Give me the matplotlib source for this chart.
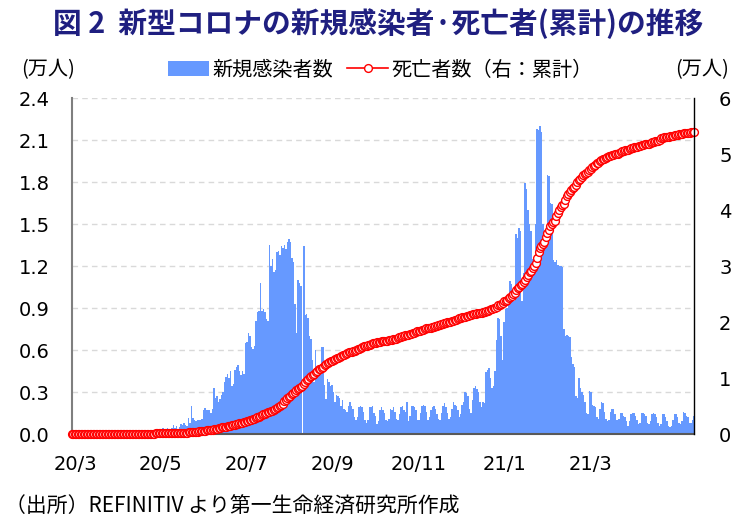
import numpy as np
import pandas as pd
import matplotlib
matplotlib.use('Agg')
import matplotlib.pyplot as plt
import matplotlib.dates as mdates

JP = ['Noto Sans CJK JP', 'DejaVu Sans']
plt.rcParams['font.family'] = ['DejaVu Sans', 'Noto Sans CJK JP']

# daily new cases (persons), one list per month, from 2020/3/1
cases_2020_03 = [0, 0, 0, 0, 1, 0, 1, 1, 4, 0, 6, 4, 7, 14, 13, 11, 23, 31, 34, 52,
                 38, 34, 128, 152, 155, 218, 243, 75, 17, 46, 27]
cases_2020_04 = [27, 82, 44, 43, 123, 63, 65, 48, 89, 51, 121, 66, 141, 144, 99, 97, 178, 87, 251, 143,
                 124, 165, 142, 318, 246, 104, 173, 183, 354, 297]
cases_2020_05 = [424, 385, 293, 437, 322, 374, 424, 663, 445, 595, 350, 511, 698, 663, 818, 665, 598, 1160, 767, 2000,
                 1130, 1000, 950, 1000, 1030, 1000, 1100, 1680, 1830, 1740, 1720]
cases_2020_06 = [1700, 1500, 1800, 3300, 2600, 2700, 2300, 2500, 2800, 3000, 3700, 4100, 4300, 4000, 4500, 3400, 3600, 4600, 4800, 4900,
                 4500, 4200, 4500, 4300, 6500, 6600, 7200, 7000, 6200, 6100]
cases_2020_07 = [6300, 8100, 8700, 8800, 10800, 8800, 8900, 8700, 8200, 8100, 13500, 12000, 12500, 11600, 11700, 13000, 13100, 12800, 13400, 13300,
                 13500, 13200, 13700, 13900, 13700, 12600, 12300, 9300, 7200, 11000, 10800]
cases_2020_08 = [10600, 0, 13400, 8500, 8600, 8300, 7000, 6800, 5300, 3700, 6000, 4500, 4600, 4400, 6200, 6200, 3500, 2500, 3900, 3700,
                 3400, 3500, 3000, 2300, 2800, 2700, 2600, 2000, 2400, 1800, 1700]
cases_2020_09 = [1600, 2000, 2300, 2000, 1800, 1200, 1000, 1200, 1900, 2000, 1900, 1600, 1000, 800, 1000, 1900, 1900, 2000, 1500, 1300,
                 700, 900, 1700, 1900, 1700, 1500, 1000, 900, 1100, 1800]
cases_2020_10 = [1700, 1900, 1600, 1100, 1000, 1400, 1900, 2000, 1700, 1600, 2300, 900, 1300, 2000, 2000, 1900, 1700, 1000, 1000, 1500,
                 2000, 2100, 2000, 1600, 1000, 1200, 1700, 1900, 2000, 1800, 1400]
cases_2020_11 = [1100, 1000, 1500, 2000, 2200, 1900, 1500, 1100, 1200, 1800, 2300, 2100, 2000, 1700, 1200, 1400, 2100, 2300, 3000, 2900,
                 2700, 1800, 1500, 2400, 3300, 3400, 3200, 3000, 2300, 1900]
cases_2020_12 = [2300, 2200, 4400, 4600, 4700, 4000, 3300, 3400, 4500, 6700, 8300, 8200, 7000, 5300, 8000, 8900, 9000, 9300, 10900, 10700,
                 10000, 9500, 14300, 14000, 14700, 14500, 9500, 11500, 17900, 17500, 16000]
cases_2021_01 = [15000, 14500, 12500, 12600, 15000, 21800, 21700, 22000, 21600, 15000, 13400, 13400, 18500, 18400, 16500, 16400, 12400, 12300, 12400, 12100,
                 12000, 12000, 11900, 7500, 7000, 7100, 7000, 6900, 5500, 5000, 4800]
cases_2021_02 = [2700, 2600, 4000, 3300, 3000, 2800, 2300, 1500, 1400, 3100, 3000, 2100, 2000, 1900, 1200, 1100, 1800, 2300, 2200, 1600,
                 1100, 900, 1000, 1600, 1800, 1800, 1400, 1000]
cases_2021_03 = [1000, 1100, 1500, 1500, 1300, 1200, 900, 600, 900, 1400, 1500, 1500, 1300, 1000, 700, 800, 1500, 1500, 1400, 1300,
                 800, 700, 900, 1400, 1500, 1400, 1200, 800, 600, 700, 1400]
cases_2021_04 = [1400, 1200, 900, 600, 500, 600, 1000, 1400, 1400, 1200, 800, 700, 900, 1600, 1500, 1300, 1200, 800, 800, 1000, 1300]

# cumulative deaths (persons)
deaths_2020_03 = [0, 0, 0, 0, 0, 0, 0, 0, 0, 0, 0, 0, 0, 0, 0, 0, 0, 0, 0, 0,
                  0, 0, 0, 0, 0, 0, 1, 2, 2, 3, 5]
deaths_2020_04 = [5, 9, 9, 11, 12, 13, 18, 18, 18, 24, 25, 25, 27, 34, 48, 50, 52, 54, 58, 58,
                  65, 75, 79, 86, 87, 90, 93, 93, 103, 103]
deaths_2020_05 = [103, 106, 116, 123, 131, 138, 148, 153, 161, 178, 186, 194, 206, 219, 247, 261, 264, 286, 312, 339,
                  369, 397, 407, 429, 481, 524, 552, 577, 611, 627, 643]
deaths_2020_06 = [705, 755, 792, 848, 908, 952, 998, 1080, 1162, 1210, 1284, 1339, 1354, 1423, 1480, 1568, 1625, 1674, 1737, 1831,
                  1877, 1930, 1991, 2102, 2205, 2292, 2340, 2413, 2529, 2657]
deaths_2020_07 = [2749, 2844, 2952, 3026, 3199, 3310, 3502, 3602, 3720, 3860, 3971, 4079, 4172, 4346, 4453, 4669, 4804, 5033, 5173, 5368,
                  5940, 6093, 6343, 6655, 6769, 7067, 7257, 7497, 7812, 8005, 8153]
deaths_2020_08 = [8366, 8539, 8884, 9298, 9604, 9909, 10210, 10408, 10621, 10751, 11010, 11270, 11556, 11677, 11839, 11982, 12264, 12423, 12618, 12843,
                  12987, 13059, 13159, 13308, 13502, 13628, 13743, 13981, 14028, 14149, 14263]
deaths_2020_09 = [14389, 14563, 14678, 14728, 14779, 14889, 15004, 15168, 15265, 15427, 15499, 15641, 15705, 15772, 15857, 15953, 16066, 16206, 16283, 16312,
                  16376, 16398, 16470, 16550, 16600, 16640, 16667, 16680, 16700, 16734]
deaths_2020_10 = [16866, 16938, 16976, 17016, 17103, 17248, 17408, 17451, 17547, 17609, 17625, 17673, 17780, 17863, 17976, 18028, 18151, 18309, 18408, 18471,
                  18492, 18656, 18741, 18843, 18891, 18944, 19003, 19053, 19111, 19230, 19276]
deaths_2020_11 = [19411, 19539, 19585, 19677, 19749, 19809, 19951, 20011, 20041, 20125, 20206, 20314, 20419, 20537, 20671, 20759, 20845, 20903, 20968, 21047,
                  21138, 21201, 21289, 21378, 21439, 21477, 21535, 21578, 21609, 21644]
deaths_2020_12 = [21709, 21803, 21903, 22042, 22206, 22249, 22332, 22432, 22574, 22747, 22952, 23123, 23276, 23451, 23661, 23827, 24011, 24283, 24539, 24691,
                  24941, 25246, 25657, 26000, 26276, 26521, 26735, 27071, 27568, 28033, 28469]
deaths_2021_01 = [28887, 29175, 29577, 30011, 30524, 31368, 32425, 33163, 33579, 33884, 34334, 35140, 35852, 36467, 37105, 37449, 37796, 38082, 38854, 39501,
                  40076, 40574, 40874, 41117, 41797, 42550, 42909, 43300, 43631, 43951, 44164]
deaths_2021_02 = [44399, 44946, 45344, 45605, 45902, 46290, 46440, 46605, 46869, 47145, 47382, 47622, 47868, 48094, 48313, 48478, 48708, 48940, 49053, 49150,
                  49300, 49413, 49558, 49667, 49784, 49890, 49941, 49993]
deaths_2021_03 = [50077, 50246, 50366, 50462, 50566, 50643, 50677, 50803, 50906, 51015, 51110, 51190, 51261, 51326, 51421, 51498, 51560, 51634, 51724, 51784,
                  51800, 51860, 52000, 52111, 52190, 52272, 52372, 52395, 52535, 52788, 52897]
deaths_2021_04 = [52987, 53032, 53081, 53110, 53173, 53226, 53256, 53322, 53356, 53423, 53497, 53500, 53600, 53663, 53723, 53779, 53795, 53811, 53841, 53887,
                  53940]

x_labels = ['20/3', '20/5', '20/7', '20/9', '20/11', '21/1', '21/3']

cases = np.array(cases_2020_03 + cases_2020_04 + cases_2020_05 + cases_2020_06 + cases_2020_07
                 + cases_2020_08 + cases_2020_09 + cases_2020_10 + cases_2020_11 + cases_2020_12
                 + cases_2021_01 + cases_2021_02 + cases_2021_03 + cases_2021_04) / 10000
deaths = np.array(deaths_2020_03 + deaths_2020_04 + deaths_2020_05 + deaths_2020_06 + deaths_2020_07
                  + deaths_2020_08 + deaths_2020_09 + deaths_2020_10 + deaths_2020_11 + deaths_2020_12
                  + deaths_2021_01 + deaths_2021_02 + deaths_2021_03 + deaths_2021_04) / 10000
dates = pd.date_range('2020-03-01', periods=len(cases), freq='D')

fig = plt.figure(figsize=(7.42, 5.24), dpi=100)
ax = fig.add_axes([72 / 742, 1 - 434 / 524, 622 / 742, 336 / 524])

bars = ax.bar(dates, cases, width=1.0, color='#6699FF', linewidth=0, zorder=2)
ax.set_ylim(0, 2.4)
ax.set_yticks(np.arange(0, 2.41, 0.3))
ax.set_yticklabels([f'{v:.1f}' for v in np.arange(0, 2.41, 0.3)])
ax.yaxis.grid(True, color='#d9d9d9', linestyle=(0, (4, 3)), linewidth=1)
ax.set_axisbelow(True)
ax.set_xlim(dates[0], dates[-1])

# tick marks on every other month, labels spaced as in the original
ax.xaxis.set_minor_locator(mdates.MonthLocator(bymonth=[1, 3, 5, 7, 9, 11]))
label_pos = dates[0] + pd.to_timedelta(np.linspace(2, 347, len(x_labels)), unit='D')
ax.set_xticks(label_pos)
ax.set_xticklabels(x_labels)
ax.tick_params(axis='x', which='major', length=0, pad=15, labelsize=14)
ax.tick_params(axis='x', which='minor', direction='in', length=4, width=1.2, color='#404040')
ax.tick_params(axis='y', length=0, pad=16, labelsize=14)

for s in ['top', 'right']:
    ax.spines[s].set_visible(False)
ax.spines['left'].set_color('#7f7f7f')
ax.spines['left'].set_linewidth(1.5)
ax.spines['bottom'].set_color('#595959')
ax.spines['bottom'].set_linewidth(1.5)

ax2 = ax.twinx()
line, = ax2.plot(dates, deaths, color='red', linewidth=1.2, marker='o', markersize=5.6,
                 markerfacecolor='white', markeredgecolor='red', markeredgewidth=1.0, clip_on=False)
ax2.set_ylim(0, 6)
ax2.set_yticks(range(0, 7))
ax2.tick_params(axis='y', length=0, pad=18, labelsize=14)
for s in ['top', 'left', 'bottom']:
    ax2.spines[s].set_visible(False)
ax2.spines['right'].set_color('black')
ax2.spines['right'].set_linewidth(1)

fig.text(0.51, 0.955, '図 2  新型コロナの新規感染者·死亡者(累計)の推移', ha='center', va='center',
         fontsize=20.7, fontweight='bold', color='#1f1f80', family=JP)
fig.text(0.028, 1 - 70 / 524, '(万人)', ha='left', va='center', fontsize=14.5, family=JP)
fig.text(0.982, 1 - 70 / 524, '(万人)', ha='right', va='center', fontsize=14.5, family=JP)
fig.legend([bars, line], ['新規感染者数', '死亡者数（右：累計）'], loc='center',
           bbox_to_anchor=(0.513, 1 - 70 / 524), ncol=2, frameon=False,
           prop={'family': JP, 'size': 14.5}, handlelength=2.0, handletextpad=0.2,
           columnspacing=0.7)
fig.text(0.007, 1 - 507 / 524, '（出所）REFINITIV より第一生命経済研究所作成', ha='left', va='center',
         fontsize=15, family=JP)

fig.savefig('out.png', dpi=100)
